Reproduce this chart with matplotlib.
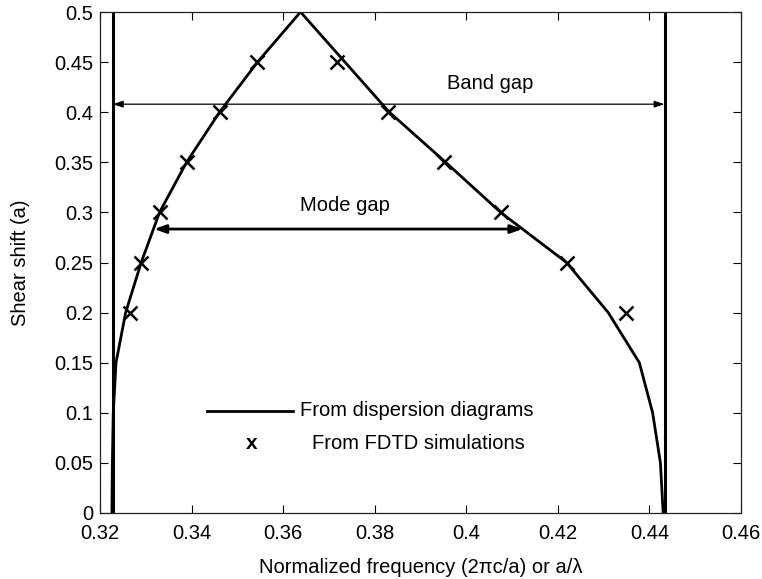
import matplotlib
matplotlib.use("Agg")
import matplotlib.pyplot as plt
from matplotlib.ticker import FuncFormatter

plt.rcParams['font.family'] = ['Liberation Sans', 'DejaVu Sans']

# ---- data ----
band_edges = [0.3228, 0.4433]
disp_x = [0.3226, 0.3227, 0.3229, 0.3235, 0.3256, 0.3290, 0.3330, 0.3389,
          0.3461, 0.3544, 0.3638, 0.3735, 0.3832, 0.3955, 0.4075, 0.4219,
          0.4310, 0.4378, 0.4407, 0.4424, 0.4430]
disp_y = [0.0, 0.05, 0.10, 0.15, 0.20, 0.25, 0.30, 0.35,
          0.40, 0.45, 0.50, 0.45, 0.40, 0.35, 0.30, 0.25,
          0.20, 0.15, 0.10, 0.05, 0.0]
fdtd_x = [0.3265, 0.3290, 0.3332, 0.3389, 0.3461, 0.3542,
          0.3717, 0.3830, 0.3952, 0.4075, 0.4219, 0.4348]
fdtd_y = [0.20, 0.25, 0.30, 0.35, 0.40, 0.45,
          0.45, 0.40, 0.35, 0.30, 0.25, 0.20]
band_gap_y = 0.408
mode_gap_x = [0.3318, 0.4123]
mode_gap_y = 0.2834
xticks = [0.32, 0.34, 0.36, 0.38, 0.40, 0.42, 0.44, 0.46]
yticks = [0, 0.05, 0.10, 0.15, 0.20, 0.25, 0.30, 0.35, 0.40, 0.45, 0.50]

fig = plt.figure(figsize=(7.62, 5.79), dpi=100)
ax = fig.add_axes([100/762, 1-513/579, 641/762, 501/579])

for xe in band_edges:
    ax.axvline(xe, color='black', lw=2.2)

ax.plot(disp_x, disp_y, color='black', lw=2.0, solid_joinstyle='miter')
ax.plot(fdtd_x, fdtd_y, linestyle='none', marker='x', color='black',
        markersize=9.5, markeredgewidth=1.8)

# band gap arrow
ax.annotate('', xy=(band_edges[1], band_gap_y), xytext=(band_edges[0], band_gap_y),
            arrowprops=dict(arrowstyle='<|-|>,head_length=0.6,head_width=0.2',
                            color='black', lw=0.9, shrinkA=0, shrinkB=0))
ax.text(0.4053, 0.429, 'Band gap', ha='center', va='center', fontsize=14.5)

# mode gap arrow
ax.annotate('', xy=(mode_gap_x[1], mode_gap_y), xytext=(mode_gap_x[0], mode_gap_y),
            arrowprops=dict(arrowstyle='<|-|>,head_length=0.7,head_width=0.25',
                            color='black', lw=2.0, shrinkA=0, shrinkB=0))
ax.text(0.3736, 0.3065, 'Mode gap', ha='center', va='center', fontsize=14.5)

# manual legend (axes fraction)
ax.plot([0.1669, 0.3011], [0.2036, 0.2036], color='black', lw=2.0,
        transform=ax.transAxes)
ax.text(0.312, 0.2036, 'From dispersion diagrams', transform=ax.transAxes,
        ha='left', va='center', fontsize=14.5)
ax.text(0.2371, 0.1397, 'x', transform=ax.transAxes, ha='center', va='center',
        fontsize=15, fontweight='bold')
ax.text(0.3307, 0.1397, 'From FDTD simulations', transform=ax.transAxes,
        ha='left', va='center', fontsize=14.5)

ax.set_xlim(0.32, 0.46)
ax.set_ylim(0, 0.5)
ax.set_xticks(xticks)
ax.set_yticks(yticks)
fmt = FuncFormatter(lambda v, p: ('%g' % round(v, 4)))
ax.xaxis.set_major_formatter(fmt)
ax.yaxis.set_major_formatter(fmt)
ax.tick_params(direction='in', length=6, width=0.8, top=True, right=True,
               labelsize=14.5)
ax.tick_params(axis='x', pad=8)
ax.tick_params(axis='y', pad=5)
for s in ax.spines.values():
    s.set_linewidth(0.9)
    s.set_color('#222222')

ax.set_xlabel('Normalized frequency (2\u03c0c/a) or a/\u03bb', fontsize=14.5, labelpad=11)
ax.set_ylabel('Shear shift (a)', fontsize=14.5, labelpad=17)

fig.savefig('out.png', dpi=100)
